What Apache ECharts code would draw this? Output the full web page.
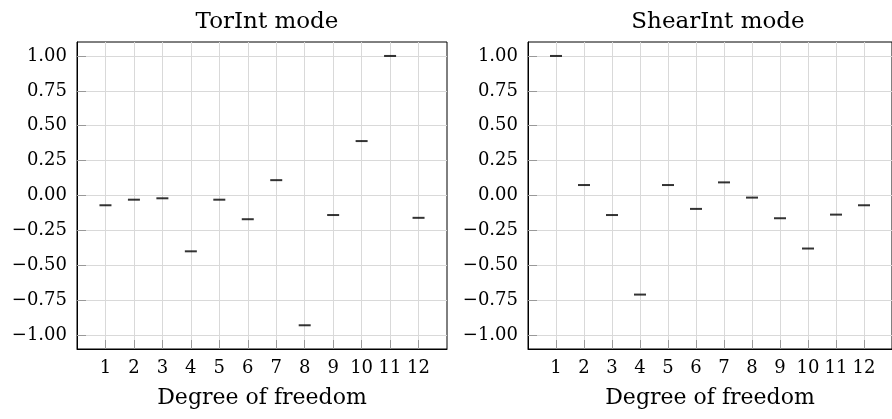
<!DOCTYPE html>
<html>
<head>
<meta charset="utf-8">
<script src="https://cdn.jsdelivr.net/npm/echarts@6/dist/echarts.min.js"></script>
<style>
  html, body { margin: 0; padding: 0; background: #fff; }
  #main { width: 892px; height: 419px; }
</style>
</head>
<body>
<div id="main"></div>
<script>
// degree of freedom 1..12
const dofs = [1, 2, 3, 4, 5, 6, 7, 8, 9, 10, 11, 12];
// mode shape values
const torInt = [-0.07, -0.03, -0.02, -0.40, -0.03, -0.17, 0.11, -0.93, -0.14, 0.39, 1.00, -0.16];
const shearInt = [1.00, 0.075, -0.14, -0.71, 0.075, -0.096, 0.094, -0.015, -0.163, -0.38, -0.137, -0.07];
const yTicks = [-1, -0.75, -0.5, -0.25, 0, 0.25, 0.5, 0.75, 1];
const titles = ['TorInt mode', 'ShearInt mode'];

const font = 'DejaVu Serif';
const chart = echarts.init(document.getElementById('main'));

function fmtY(v) {
  const s = Math.abs(v).toFixed(2);
  return v < 0 ? '\u2212' + s : s;
}

function xAxis(i) {
  return {
    type: 'value', gridIndex: i, min: 0, max: 13, position: 'bottom',
    name: 'Degree of freedom', nameLocation: 'middle', nameGap: 38,
    nameTextStyle: { fontFamily: font, fontSize: 22, color: '#000' },
    axisLine: { show: true, onZero: false, lineStyle: { color: '#000', width: 1 } },
    axisTick: { inside: true, length: 9, lineStyle: { color: '#999' }, customValues: dofs },
    axisLabel: { fontFamily: font, fontSize: 18, color: '#000', margin: 10, customValues: dofs },
    splitLine: { show: true, lineStyle: { color: '#d9d9d9', width: 1 } }
  };
}

function yAxis(i) {
  return {
    type: 'value', gridIndex: i, min: -1.1, max: 1.1, position: 'left',
    axisLine: { show: true, onZero: false, lineStyle: { color: '#000', width: 1 } },
    axisTick: { inside: true, length: 9, lineStyle: { color: '#999' }, customValues: yTicks },
    axisLabel: { fontFamily: font, fontSize: 18, color: '#000', margin: 10, customValues: yTicks, formatter: fmtY },
    splitLine: { show: true, lineStyle: { color: '#d9d9d9', width: 1 } }
  };
}

function series(i, vals) {
  return {
    type: 'scatter', xAxisIndex: i, yAxisIndex: i,
    symbol: 'rect', symbolSize: [12, 2],
    itemStyle: { color: '#000' },
    data: dofs.map((d, k) => [d, vals[k]]),
    z: 5
  };
}

chart.setOption({
  animation: false,
  backgroundColor: '#fff',
  title: [
    { text: titles[0], left: 262, top: 6, textAlign: 'center',
      textStyle: { fontFamily: font, fontSize: 23, fontWeight: 'normal', color: '#000' } },
    { text: titles[1], left: 713, top: 6, textAlign: 'center',
      textStyle: { fontFamily: font, fontSize: 23, fontWeight: 'normal', color: '#000' } }
  ],
  grid: [
    { left: 77, top: 42, width: 370, height: 307, show: true, borderColor: '#000', borderWidth: 1, backgroundColor: 'transparent' },
    { left: 528, top: 42, width: 370, height: 307, show: true, borderColor: '#000', borderWidth: 1, backgroundColor: 'transparent' }
  ],
  xAxis: [xAxis(0), xAxis(1)],
  yAxis: [yAxis(0), yAxis(1)],
  series: [series(0, torInt), series(1, shearInt)]
});
</script>
</body>
</html>
